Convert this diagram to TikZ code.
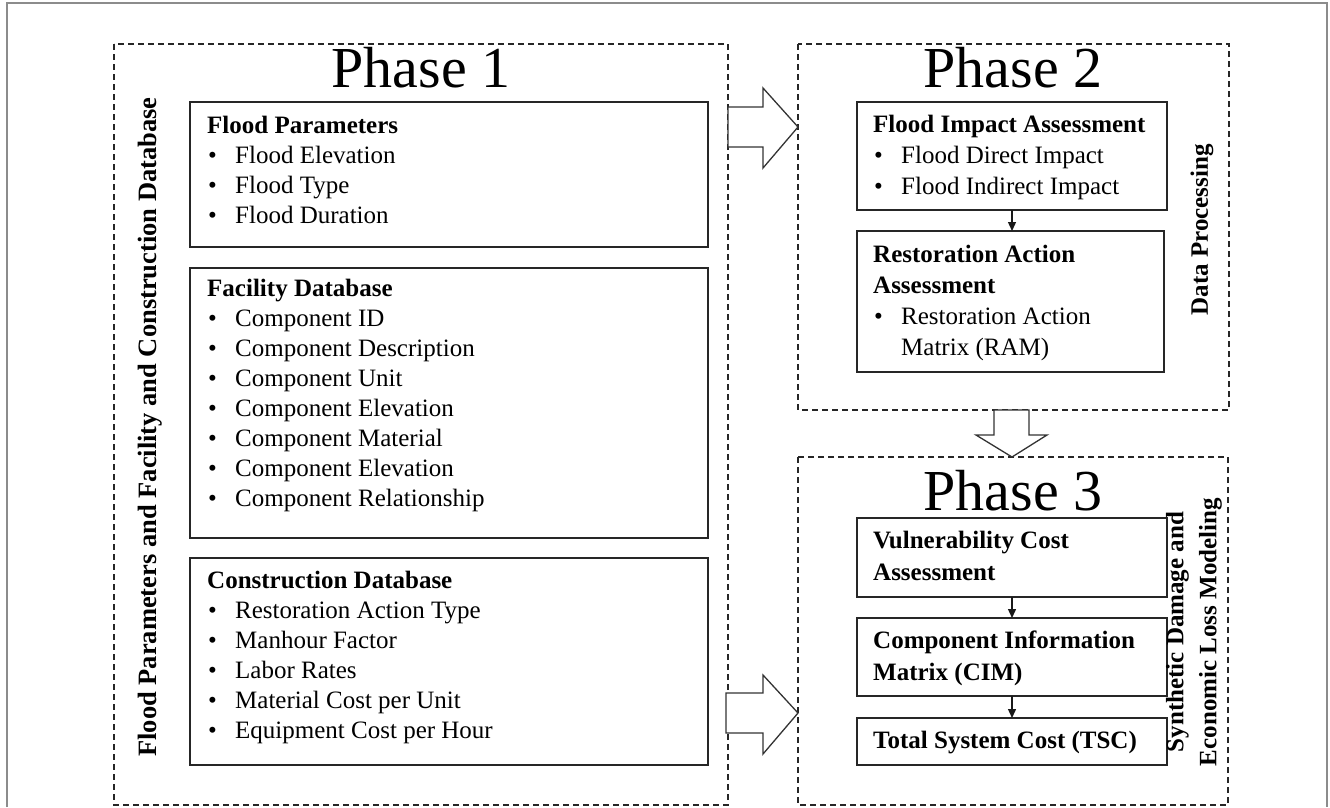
\documentclass[tikz,border=0pt]{standalone}
\usepackage{fontspec}
\setmainfont{Liberation Serif}
\usetikzlibrary{arrows.meta,positioning}
\newcommand{\bulitem}[1]{\makebox[28pt][l]{\hspace{1pt}\textbullet}#1}

\begin{document}
\begin{tikzpicture}[x=1pt,y=-1pt,
    frameline/.style={draw=black!45,line width=1.5pt},
    phasebox/.style={draw=black!85,line width=1.3pt,dash pattern=on 6pt off 4pt},
    phasetitle/.style={anchor=base,inner sep=0pt,font=\fontsize{58}{60}\selectfont},
    infobox/.style={draw=black!85,line width=1.8pt,anchor=north west,inner sep=0pt,outer sep=0pt},
    infotext/.style={anchor=north west,align=left,inner sep=0pt,font=\fontsize{25}{30}\selectfont},
    widetext/.style={infotext,font=\fontsize{25}{31}\selectfont},
    sidelabel/.style={rotate=90,align=center,inner sep=0pt,font=\fontsize{25}{33}\selectfont\bfseries},
    flow/.style={draw=black!90,line width=1.3pt,-{Triangle[length=9pt,width=8pt]}},
    hollow/.style={draw=black!80,line width=1.3pt,fill=white,line join=miter}]
  \useasboundingbox (0,0) rectangle (1330,807);
  % outer frame
  \draw[frameline] (7,807) -- (7,3) -- (1327,3) -- (1327,807);

  % phase frames
  \draw[phasebox] (114,44) rectangle (728,805);
  \draw[phasebox] (798,44) rectangle (1229,410);
  \draw[phasebox] (798,457) rectangle (1228,805);
  \node[phasetitle] (p1title) at (421,87) {Phase 1};
  \node[phasetitle] (p2title) at (1013,87) {Phase 2};
  \node[phasetitle] (p3title) at (1013,510) {Phase 3};

  % phase 1
  \node[infobox,minimum width=518pt,minimum height=145pt] (fp) at (190,102) {};
  \node[infotext] (fptext) at (207,116) {\textbf{Flood Parameters}\\
    \bulitem{Flood Elevation}\\ \bulitem{Flood Type}\\ \bulitem{Flood Duration}};
  \node[infobox,minimum width=518pt,minimum height=270pt] (fd) at (190,268) {};
  \node[infotext] (fdtext) at (207,279) {\textbf{Facility Database}\\
    \bulitem{Component ID}\\ \bulitem{Component Description}\\
    \bulitem{Component Unit}\\ \bulitem{Component Elevation}\\
    \bulitem{Component Material}\\ \bulitem{Component Elevation}\\
    \bulitem{Component Relationship}};
  \node[infobox,minimum width=518pt,minimum height=207pt] (cd) at (190,558) {};
  \node[infotext] (cdtext) at (207,571) {\textbf{Construction Database}\\
    \bulitem{Restoration Action Type}\\ \bulitem{Manhour Factor}\\
    \bulitem{Labor Rates}\\ \bulitem{Material Cost per Unit}\\
    \bulitem{Equipment Cost per Hour}};
  \node[sidelabel,font=\fontsize{26.5}{30}\selectfont\bfseries] (p1side) at (150,427)
    {Flood Parameters and Facility and Construction Database};

  % phase 2
  \node[infobox,minimum width=310pt,minimum height=108pt] (fia) at (857,102) {};
  \node[widetext] (fiatext) at (873,115) {\textbf{Flood Impact Assessment}\\
    \bulitem{Flood Direct Impact}\\ \bulitem{Flood Indirect Impact}};
  \node[infobox,minimum width=307pt,minimum height=141pt] (raa) at (857,231) {};
  \node[widetext] (raatext) at (873,245) {\textbf{Restoration Action}\\
    \textbf{Assessment}\\ \bulitem{Restoration Action}\\ \hspace*{28pt}Matrix (RAM)};
  \node[sidelabel] (p2side) at (1202,230) {Data Processing};

  % phase 3
  \node[infobox,minimum width=310pt,minimum height=79pt] (vca) at (857,518) {};
  \node[infotext,font=\fontsize{25}{32}\selectfont\bfseries] (vcatext) at (873,531)
    {Vulnerability Cost\\ Assessment};
  \node[infobox,minimum width=310pt,minimum height=78pt] (cim) at (857,618) {};
  \node[infotext,font=\fontsize{25}{32}\selectfont\bfseries] (cimtext) at (873,631)
    {Component Information\\ Matrix (CIM)};
  \node[infobox,minimum width=310pt,minimum height=47pt] (tsc) at (857,718) {};
  \node[infotext,font=\fontsize{25}{32}\selectfont\bfseries] (tsctext) at (873,731)
    {Total System Cost (TSC)};
  \node[sidelabel] (p3side) at (1194,632) {Synthetic Damage and\\ Economic Loss Modeling};

  % flows inside the phases
  \begin{scope}
    \draw[flow] (fia.south) -- (fia.south |- raa.north);
    \draw[flow] (vca.south) -- (cim.north);
    \draw[flow] (cim.south) -- (tsc.north);
  \end{scope}

  % block arrows between the phases
  \draw[hollow] (728,107) -- (763,107) -- (763,88) -- (798,127)
    -- (763,168) -- (763,147) -- (728,147) -- cycle;
  \draw[hollow] (994,410) -- (994,435) -- (976,435) -- (1012,457)
    -- (1047,435) -- (1029,435) -- (1029,410) -- cycle;
  \draw[hollow] (726,693) -- (763,693) -- (763,675) -- (798,713)
    -- (763,754) -- (763,733) -- (726,733) -- cycle;
\end{tikzpicture}
\end{document}
